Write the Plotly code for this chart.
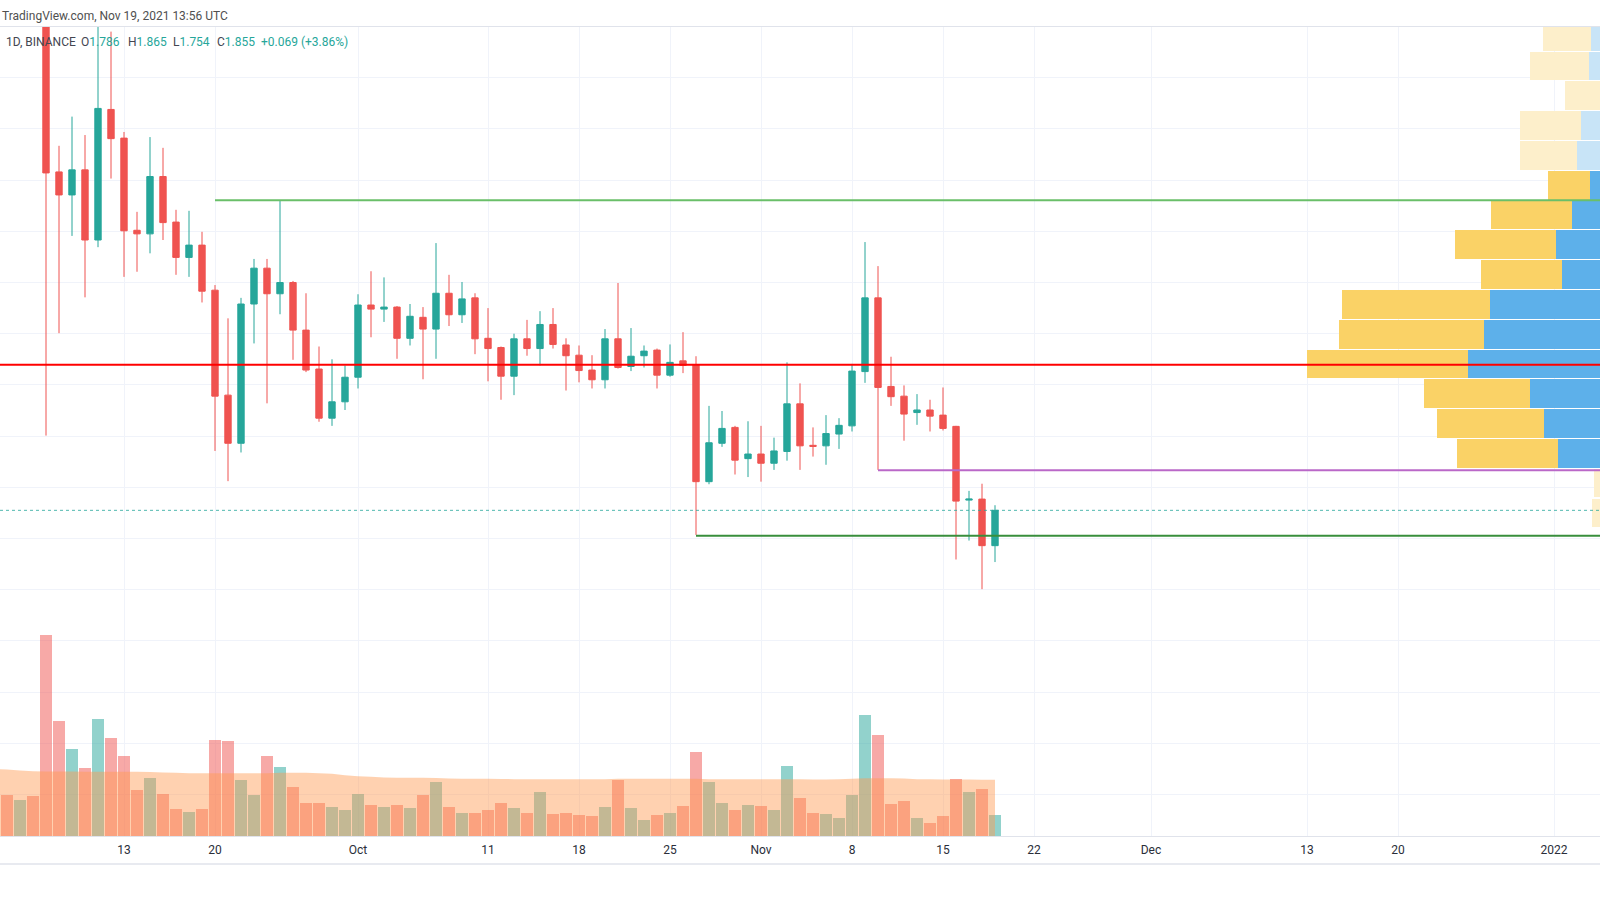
import pandas as pd
import plotly.graph_objects as go

# ---------------- data (ADAUSDT, 1D, Binance) ----------------
dates = pd.date_range("2021-09-03", "2021-11-19", freq="D")

open_ = [2.93, 2.87, 2.85, 2.90, 2.84, 2.516, 2.471, 2.520, 2.383, 2.638, 2.582, 2.402, 2.395, 2.507,
         2.418, 2.349, 2.373, 2.285, 2.080, 1.986, 2.258, 2.328, 2.278, 2.300, 2.207, 2.131, 2.035, 2.067,
         2.115, 2.256, 2.248, 2.252, 2.191, 2.232, 2.209, 2.279, 2.237, 2.270, 2.191, 2.173, 2.117, 2.190,
         2.171, 2.218, 2.178, 2.158, 2.129, 2.110, 2.190, 2.136, 2.157, 2.168, 2.119, 2.147, 2.139, 1.911,
         1.986, 2.017, 1.956,
         1.965, 1.947, 1.970, 2.063, 1.982, 1.981, 2.004, 2.020, 2.126, 2.270, 2.097, 2.078, 2.046, 2.051,
         2.041, 2.019, 1.875, 1.877, 1.786]
high = [2.99, 2.96, 2.93, 2.95, 2.87, 2.567, 2.624, 2.588, 2.81, 2.790, 2.594, 2.438, 2.584, 2.563,
        2.442, 2.440, 2.399, 2.295, 2.230, 2.270, 2.346, 2.346, 2.461, 2.303, 2.279, 2.175, 2.150, 2.138,
        2.277, 2.322, 2.310, 2.254, 2.258, 2.252, 2.377, 2.315, 2.301, 2.279, 2.250, 2.175, 2.200, 2.227,
        2.244, 2.250, 2.191, 2.177, 2.158, 2.209, 2.299, 2.211, 2.177, 2.171, 2.179, 2.203, 2.156, 2.059,
        2.049, 2.020, 2.029,
        2.020, 1.997, 2.144, 2.103, 2.017, 2.041, 2.035, 2.141, 2.379, 2.332, 2.155, 2.099, 2.082, 2.071,
        2.095, 2.020, 1.893, 1.907, 1.865]
low = [2.86, 2.83, 2.83, 2.82, 2.001, 2.201, 2.391, 2.271, 2.369, 2.503, 2.311, 2.321, 2.357, 2.383,
       2.315, 2.311, 2.261, 1.971, 1.912, 1.968, 2.181, 2.064, 2.238, 2.149, 2.125, 2.028, 2.020, 2.051,
       2.093, 2.193, 2.223, 2.151, 2.177, 2.111, 2.151, 2.215, 2.221, 2.160, 2.107, 2.071, 2.080, 2.157,
       2.138, 2.171, 2.089, 2.105, 2.093, 2.093, 2.132, 2.127, 2.134, 2.093, 2.116, 2.123, 1.807, 1.906,
       1.979, 1.925, 1.920,
       1.911, 1.934, 1.952, 1.934, 1.960, 1.944, 1.975, 2.009, 2.104, 1.934, 2.059, 1.991, 2.022, 2.009,
       2.011, 1.759, 1.796, 1.701, 1.754]
close = [2.87, 2.85, 2.90, 2.84, 2.514, 2.471, 2.520, 2.383, 2.640, 2.581, 2.401, 2.395, 2.507, 2.417,
         2.349, 2.373, 2.283, 2.078, 1.986, 2.258, 2.328, 2.278, 2.300, 2.207, 2.129, 2.035, 2.067, 2.115,
         2.256, 2.248, 2.252, 2.191, 2.234, 2.209, 2.279, 2.237, 2.268, 2.190, 2.171, 2.117, 2.190, 2.171,
         2.218, 2.179, 2.157, 2.128, 2.110, 2.190, 2.134, 2.156, 2.166, 2.119, 2.144, 2.138, 1.911, 1.987,
         2.015, 1.953, 1.965,
         1.947, 1.971, 2.063, 1.981, 1.980, 2.005, 2.021, 2.127, 2.270, 2.095, 2.077, 2.043, 2.051, 2.039,
         2.015, 1.873, 1.877, 1.786, 1.855]

# daily volume (millions) and its moving average
volume = [300, 247, 215, 239, 1209, 693, 521, 411, 705, 589, 479, 277, 349, 253, 165, 147, 165, 577, 571,
          339, 247, 483, 417, 293, 197, 197, 177, 159,
          253, 189, 177, 189, 171, 245, 325, 177, 141, 141, 159, 197, 171, 141, 265, 135, 141, 129, 123,
          177, 337, 171, 99, 129, 141, 183, 503, 327, 201, 159, 189,
          183, 159, 423, 227, 141, 135, 111, 245, 729, 609, 195, 209, 111, 81, 123, 341, 265, 283, 129]
volume_ma = [403, 399, 393, 389, 387, 387, 387, 386, 386, 386, 385, 385, 384, 381, 380, 377, 376, 376, 377,
             377, 377, 377, 379, 379, 379, 377, 373, 365,
             359, 355, 351, 349, 349, 349, 348, 345, 344, 344, 343, 342, 341, 340, 340, 340, 340, 340, 340,
             341, 343, 343, 343, 343, 343, 343, 344, 341, 340, 340, 340,
             340, 340, 340, 340, 339, 339, 340, 344, 346, 346, 346, 345, 341, 340, 339, 339, 339, 338, 337]

# horizontal levels: (price, start date)
level_red = (2.1395, "2021-09-03")
level_green_top = (2.4605, "2021-09-20")
level_purple = (1.9332, "2021-11-10")
level_green_low = (1.8055, "2021-10-27")
last_close = 1.855

# visible-range volume profile rows (price centre, up volume, down volume)
vp_price = [2.7811, 2.7229, 2.6647, 2.6065, 2.5483, 2.4901, 2.4319, 2.3737, 2.3155, 2.2573, 2.1991,
            2.1409, 2.0827, 2.0245, 1.9663, 1.9081, 1.8499]
vp_up = [9, 11, 0, 19, 23, 10, 28, 44, 38, 110, 116, 132, 70, 56, 42, 0, 0]
vp_down = [48, 59, 35, 61, 57, 42, 81, 101, 81, 148, 145, 161, 106, 107, 101, 6, 8]
vp_value_area = [False, False, False, False, False, True, True, True, True, True, True, True, True, True,
                 True, False, False]

tick_dates = ["2021-09-13", "2021-09-20", "2021-10-01", "2021-10-11", "2021-10-18", "2021-10-25",
              "2021-11-01", "2021-11-08", "2021-11-15", "2021-11-22", "2021-12-01", "2021-12-13",
              "2021-12-20", "2022-01-01"]
tick_text = ["13", "20", "Oct", "11", "18", "25", "Nov", "8", "15", "22", "Dec", "13", "20", "2022"]

# ---------------- styling ----------------
UP = "#26A69A"
DOWN = "#EF5350"
GRID = "#F0F3FA"
x_start = pd.Timestamp("2021-09-03 11:05")
x_end = pd.Timestamp("2022-01-04 12:55")

fig = go.Figure()

# volume profile (base subplot, drawn beneath everything)
blue_cols = ["#5DB0EA" if va else "#C8E4F7" for va in vp_value_area]
yel_cols = ["#FAD266" if va else "#FDEFCB" for va in vp_value_area]
fig.add_trace(go.Bar(y=vp_price, x=vp_up, base=[0] * len(vp_up), orientation="h", width=0.056,
                     marker=dict(color=blue_cols, line=dict(width=0)), xaxis="x", yaxis="y",
                     showlegend=False, hoverinfo="skip"))
fig.add_trace(go.Bar(y=vp_price, x=vp_down, base=vp_up, orientation="h", width=0.056,
                     marker=dict(color=yel_cols, line=dict(width=0)), xaxis="x", yaxis="y",
                     showlegend=False, hoverinfo="skip"))

# candles
fig.add_trace(go.Candlestick(x=dates, open=open_, high=high, low=low, close=close,
                             increasing=dict(line=dict(color=UP, width=1), fillcolor=UP),
                             decreasing=dict(line=dict(color=DOWN, width=1), fillcolor=DOWN),
                             whiskerwidth=0, xaxis="x2", yaxis="y", showlegend=False, hoverinfo="skip"))

# level lines
def level(price, start, color, width, dash="solid"):
    fig.add_trace(go.Scatter(x=[pd.Timestamp(start), x_end], y=[price, price], mode="lines",
                             line=dict(color=color, width=width, dash=dash), xaxis="x2", yaxis="y",
                             showlegend=False, hoverinfo="skip"))

level(last_close, x_start, "rgba(38,166,154,0.8)", 1, "dot")
level(level_red[0], level_red[1], "#FF0000", 2)
level(level_green_top[0], level_green_top[1], "#6ABF69", 2)
level(level_purple[0], level_purple[1], "#BA68C8", 2)
level(level_green_low[0], level_green_low[1], "#388E3C", 2)

# volume
vol_cols = ["rgba(38,166,154,0.5)" if c >= o else "rgba(239,83,80,0.5)" for o, c in zip(open_, close)]
fig.add_trace(go.Bar(x=dates, y=volume, width=0.9 * 86400000, marker=dict(color=vol_cols, line=dict(width=0)),
                     xaxis="x2", yaxis="y2", showlegend=False, hoverinfo="skip"))
fig.add_trace(go.Scatter(x=dates, y=volume_ma, mode="none", fill="tozeroy",
                         fillcolor="rgba(255,152,80,0.45)", xaxis="x2", yaxis="y2",
                         showlegend=False, hoverinfo="skip"))

TOP, BOTTOM = 27, 836
PH = BOTTOM - TOP


def py(px):
    return (BOTTOM - px) / PH


FONT = "Roboto, Arial, sans-serif"
annotations = [
    dict(text="TradingView.com, Nov 19, 2021 13:56 UTC", x=0, y=py(15.5), xanchor="left", yanchor="middle",
         font=dict(size=12, color="#505050", family=FONT)),
    dict(text="1D, BINANCE", x=4 / 1600, y=py(42.5), xanchor="left", yanchor="middle",
         font=dict(size=12, color="#434651", family=FONT)),
]
legend_parts = [("O", "1.786", 79), ("H", "1.865", 126), ("L", "1.754", 171), ("C", "1.855", 215),
                ("", "+0.069 (+3.86%)", 259)]
for lab, val, xp in legend_parts:
    annotations.append(dict(text=f'<span style="color:#434651">{lab}</span><span style="color:{UP}">{val}</span>',
                            x=xp / 1600, y=py(42.5), xanchor="left", yanchor="middle",
                            font=dict(size=12, color=UP, family=FONT)))
for a in annotations:
    a.update(xref="paper", yref="paper", showarrow=False)

fig.update_layout(
    width=1600, height=900,
    margin=dict(l=0, r=0, t=TOP, b=900 - BOTTOM),
    paper_bgcolor="white", plot_bgcolor="white",
    barmode="overlay", bargap=0, boxgap=0.3,
    hovermode=False,
    annotations=annotations,
    xaxis=dict(range=[1600, 0], visible=False, anchor="y", fixedrange=True),
    xaxis2=dict(type="date", overlaying="x", anchor="y", side="bottom", range=[x_start, x_end],
                tickvals=tick_dates, ticktext=tick_text, showgrid=True, gridcolor=GRID, gridwidth=1,
                showline=True, linecolor="#E0E3EB", linewidth=1, mirror=True, ticks="",
                ticklabelstandoff=3,
                tickfont=dict(size=12, color="#2A2E39", family=FONT), rangeslider=dict(visible=False),
                zeroline=False),
    yaxis=dict(range=[1.9 - (BOTTOM - 487.3) / 512, 1.9 + (487.3 - TOP) / 512],
               tickvals=[round(1.3 + 0.1 * i, 1) for i in range(15)], showticklabels=False,
               showgrid=True, gridcolor=GRID, zeroline=False, showline=False, ticks=""),
    yaxis2=dict(overlaying="y", range=[0, PH * 6], visible=False),
    shapes=[dict(type="line", xref="paper", yref="paper", x0=0, x1=1, y0=py(864), y1=py(864),
                 line=dict(color="#E0E3EB", width=1.5))],
)

fig.write_html("out.html", config={"displayModeBar": False})
